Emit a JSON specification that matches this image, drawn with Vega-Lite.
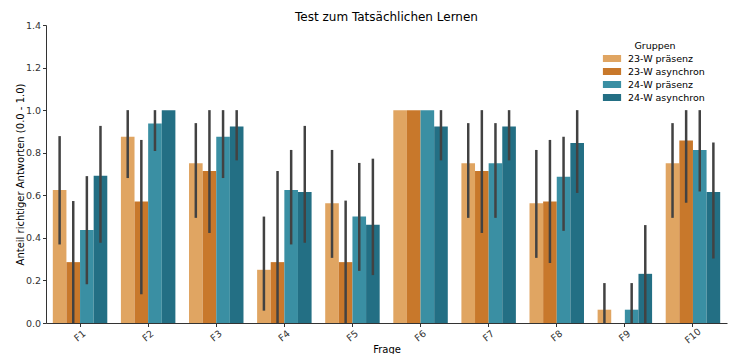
{
  "$schema": "https://vega.github.io/schema/vega-lite/v6.json",
  "autosize": "none",
  "width": 681,
  "height": 298,
  "padding": {"left": 46, "top": 25, "right": 6, "bottom": 31},
  "background": "white",
  "title": {"text": "Test zum Tatsächlichen Lernen", "font": "DejaVu Sans", "fontSize": 12, "fontWeight": "normal", "color": "#000000", "anchor": "middle", "offset": -4},
  "config": {
    "view": {"stroke": null},
    "font": "DejaVu Sans",
    "axis": {"labelFont": "DejaVu Sans", "titleFont": "DejaVu Sans", "labelFontSize": 9.5, "titleFontSize": 10, "titleFontWeight": "normal", "labelColor": "#333333", "titleColor": "#000000", "domainColor": "#333333", "tickColor": "#333333", "grid": false}
  },
  "data": {"values": [
    {"Frage": "F1", "Gruppe": "23-W präsenz", "v": 0.625, "lo": 0.369, "hi": 0.878},
    {"Frage": "F1", "Gruppe": "23-W asynchron", "v": 0.286, "lo": 0.0, "hi": 0.573},
    {"Frage": "F1", "Gruppe": "24-W präsenz", "v": 0.4375, "lo": 0.182, "hi": 0.69},
    {"Frage": "F1", "Gruppe": "24-W asynchron", "v": 0.692, "lo": 0.377, "hi": 0.926},
    {"Frage": "F2", "Gruppe": "23-W präsenz", "v": 0.875, "lo": 0.681, "hi": 1.0},
    {"Frage": "F2", "Gruppe": "23-W asynchron", "v": 0.571, "lo": 0.135, "hi": 0.86},
    {"Frage": "F2", "Gruppe": "24-W präsenz", "v": 0.9375, "lo": 0.808, "hi": 1.0},
    {"Frage": "F2", "Gruppe": "24-W asynchron", "v": 1.0, "lo": 1.0, "hi": 1.0},
    {"Frage": "F3", "Gruppe": "23-W präsenz", "v": 0.75, "lo": 0.494, "hi": 0.939},
    {"Frage": "F3", "Gruppe": "23-W asynchron", "v": 0.714, "lo": 0.423, "hi": 1.0},
    {"Frage": "F3", "Gruppe": "24-W präsenz", "v": 0.875, "lo": 0.681, "hi": 1.0},
    {"Frage": "F3", "Gruppe": "24-W asynchron", "v": 0.923, "lo": 0.764, "hi": 1.0},
    {"Frage": "F4", "Gruppe": "23-W präsenz", "v": 0.25, "lo": 0.058, "hi": 0.5},
    {"Frage": "F4", "Gruppe": "23-W asynchron", "v": 0.286, "lo": 0.0, "hi": 0.714},
    {"Frage": "F4", "Gruppe": "24-W präsenz", "v": 0.625, "lo": 0.369, "hi": 0.813},
    {"Frage": "F4", "Gruppe": "24-W asynchron", "v": 0.615, "lo": 0.377, "hi": 0.926},
    {"Frage": "F5", "Gruppe": "23-W präsenz", "v": 0.5625, "lo": 0.306, "hi": 0.813},
    {"Frage": "F5", "Gruppe": "23-W asynchron", "v": 0.286, "lo": 0.0, "hi": 0.575},
    {"Frage": "F5", "Gruppe": "24-W präsenz", "v": 0.5, "lo": 0.245, "hi": 0.752},
    {"Frage": "F5", "Gruppe": "24-W asynchron", "v": 0.462, "lo": 0.225, "hi": 0.772},
    {"Frage": "F6", "Gruppe": "23-W präsenz", "v": 1.0, "lo": 1.0, "hi": 1.0},
    {"Frage": "F6", "Gruppe": "23-W asynchron", "v": 1.0, "lo": 1.0, "hi": 1.0},
    {"Frage": "F6", "Gruppe": "24-W präsenz", "v": 1.0, "lo": 1.0, "hi": 1.0},
    {"Frage": "F6", "Gruppe": "24-W asynchron", "v": 0.923, "lo": 0.764, "hi": 1.0},
    {"Frage": "F7", "Gruppe": "23-W präsenz", "v": 0.75, "lo": 0.494, "hi": 0.939},
    {"Frage": "F7", "Gruppe": "23-W asynchron", "v": 0.714, "lo": 0.423, "hi": 1.0},
    {"Frage": "F7", "Gruppe": "24-W präsenz", "v": 0.75, "lo": 0.494, "hi": 0.939},
    {"Frage": "F7", "Gruppe": "24-W asynchron", "v": 0.923, "lo": 0.764, "hi": 1.0},
    {"Frage": "F8", "Gruppe": "23-W präsenz", "v": 0.5625, "lo": 0.306, "hi": 0.813},
    {"Frage": "F8", "Gruppe": "23-W asynchron", "v": 0.571, "lo": 0.282, "hi": 0.86},
    {"Frage": "F8", "Gruppe": "24-W präsenz", "v": 0.6875, "lo": 0.433, "hi": 0.875},
    {"Frage": "F8", "Gruppe": "24-W asynchron", "v": 0.846, "lo": 0.611, "hi": 1.0},
    {"Frage": "F9", "Gruppe": "23-W präsenz", "v": 0.0625, "lo": 0.0, "hi": 0.1875},
    {"Frage": "F9", "Gruppe": "23-W asynchron", "v": 0.0, "lo": 0.0, "hi": 0.0},
    {"Frage": "F9", "Gruppe": "24-W präsenz", "v": 0.0625, "lo": 0.0, "hi": 0.1875},
    {"Frage": "F9", "Gruppe": "24-W asynchron", "v": 0.231, "lo": 0.0, "hi": 0.46},
    {"Frage": "F10", "Gruppe": "23-W präsenz", "v": 0.75, "lo": 0.494, "hi": 0.939},
    {"Frage": "F10", "Gruppe": "23-W asynchron", "v": 0.857, "lo": 0.565, "hi": 1.0},
    {"Frage": "F10", "Gruppe": "24-W präsenz", "v": 0.8125, "lo": 0.618, "hi": 1.0},
    {"Frage": "F10", "Gruppe": "24-W asynchron", "v": 0.615, "lo": 0.303, "hi": 0.848}
  ]},
  "encoding": {
    "x": {"field": "Frage", "type": "nominal", "sort": ["F1","F2","F3","F4","F5","F6","F7","F8","F9","F10"],
      "scale": {"paddingInner": 0.2, "paddingOuter": 0.1},
      "axis": {"title": "Frage", "labelAngle": -40, "labelAlign": "center", "labelBaseline": "middle", "labelPadding": 9, "tickSize": 3.5, "titlePadding": 0}},
    "xOffset": {"field": "Gruppe", "type": "nominal", "sort": ["23-W präsenz","23-W asynchron","24-W präsenz","24-W asynchron"]}
  },
  "layer": [
    {
      "mark": {"type": "bar"},
      "encoding": {
        "y": {"field": "v", "type": "quantitative", "scale": {"domain": [0, 1.4], "nice": false},
          "axis": {"title": "Anteil richtiger Antworten (0.0 - 1.0)", "values": [0,0.2,0.4,0.6,0.8,1.0,1.2,1.4], "format": ".1f", "tickSize": 3.5, "labelPadding": 2, "titlePadding": 0}},
        "color": {"field": "Gruppe", "type": "nominal",
          "sort": ["23-W präsenz","23-W asynchron","24-W präsenz","24-W asynchron"],
          "scale": {"domain": ["23-W präsenz","23-W asynchron","24-W präsenz","24-W asynchron"], "range": ["#E0A562","#C8782B","#3A8FA3","#236F84"]},
          "legend": {"title": "Gruppen", "orient": "none", "legendX": 559, "legendY": 16, "titleFontWeight": "normal", "titleFontSize": 9.5, "titleFont": "DejaVu Sans", "titleColor": "#000", "titleAnchor": "middle", "labelFont": "DejaVu Sans", "labelFontSize": 9.5, "labelColor": "#000", "symbolType": "M-1.3,-0.5H1.3V0.5H-1.3Z", "symbolSize": 196, "symbolStrokeWidth": 0, "rowPadding": 1, "labelOffset": 9, "titlePadding": 1}}
      }
    },
    {
      "mark": {"type": "rule", "color": "#424242", "strokeWidth": 2.5},
      "encoding": {
        "y": {"field": "lo", "type": "quantitative"},
        "y2": {"field": "hi"}
      }
    }
  ]
}
